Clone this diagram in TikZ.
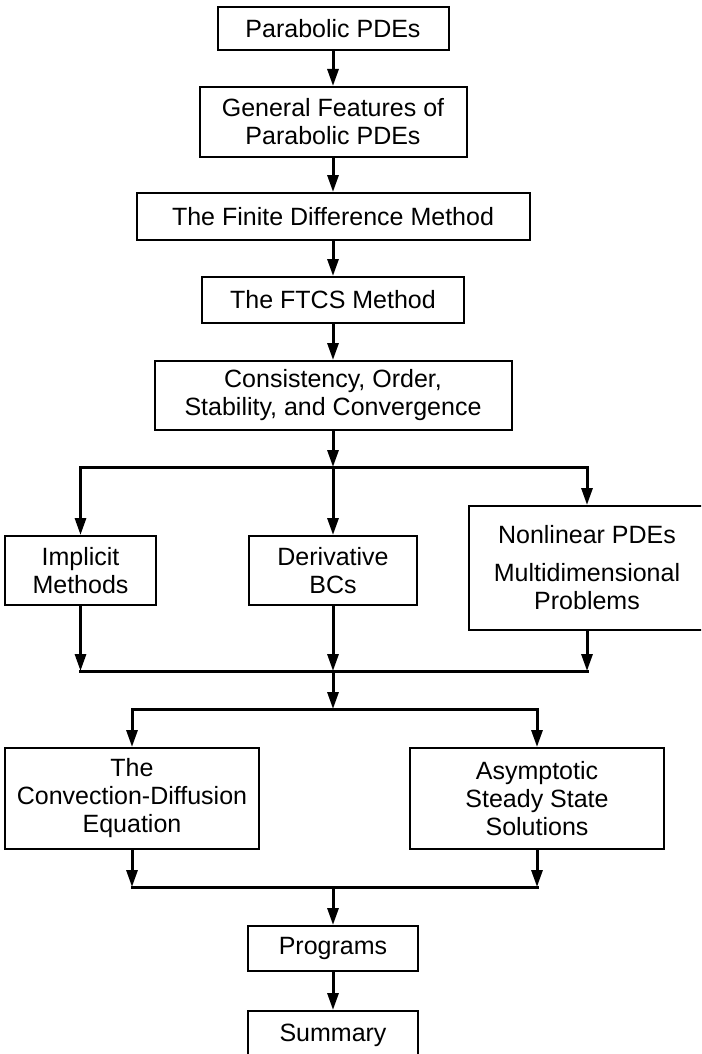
\documentclass[tikz,border=0pt]{standalone}
\usepackage{fontspec}
\setmainfont{Liberation Sans}
\usetikzlibrary{arrows.meta}
\begin{document}
\begin{tikzpicture}[x=1pt,y=-1pt,
  box/.style={draw, line width=2pt, inner sep=0pt, align=center,
    font=\fontsize{25}{28}\selectfont},
  conn/.style={line width=3pt},
  arr/.style={conn, -{Triangle[length=17pt,width=11pt]}},
]
\useasboundingbox (0,0) rectangle (701,1054);
\clip (0,0) rectangle (701,1054);

\node[box, minimum width=231, minimum height=43] (b1) at (333,28.5) {Parabolic PDEs};
\node[box, minimum width=267, minimum height=70] (b2) at (333,122) {General Features of\\Parabolic PDEs};
\node[box, minimum width=393, minimum height=47] (b3) at (333,216.5) {The Finite Difference Method};
\node[box, minimum width=262, minimum height=46] (b4) at (333,300) {The FTCS Method};
\node[box, minimum width=357, minimum height=69] (b5) at (333,395.5) {Consistency, Order,\\Stability, and Convergence};

\node[box, minimum width=151, minimum height=69] (impl) at (80.5,570.5) {Implicit\\Methods};
\node[box, minimum width=168, minimum height=69] (deriv) at (333,570.5) {Derivative\\BCs};
\node[box, minimum width=236, minimum height=124] (nonlin) at (587,568) {Nonlinear PDEs\\[10pt]Multidimensional\\Problems};

\node[box, minimum width=254, minimum height=101] (conv) at (132,798.5) {The\\Convection-Diffusion\\Equation};
\node[box, minimum width=254, minimum height=101] (asym) at (537,798.5) {Asymptotic\\Steady State\\Solutions};

\node[box, minimum width=170, minimum height=45] (prog) at (333,948.5) {Programs};
\node[box, minimum width=170, minimum height=49] (summ) at (333,1035.5) {Summary};

\coordinate (s1) at (333,467);
\coordinate (m1) at (333,671);
\coordinate (s2) at (333,709);
\coordinate (m2) at (333,887);

\draw[arr] (b1.south) -- (b2.north);
\draw[arr] (b2.south) -- (b3.north);
\draw[arr] (b3.south) -- (b4.north);
\draw[arr] (b4.south) -- (b5.north);
\draw[arr] (b5.south) -- (s1);

\draw[arr] (s1) -| (impl.north);
\draw[arr] (s1) -| (nonlin.north);
\draw[arr] (s1) -- (deriv.north);

\draw[conn, line cap=rect] (impl.south |- m1) -- (nonlin.south |- m1);
\draw[arr] (impl.south) -- (impl.south |- m1);
\draw[arr] (deriv.south) -- (m1);
\draw[arr] (nonlin.south) -- (nonlin.south |- m1);

\draw[arr] (m1) -- (s2);
\draw[arr] (s2) -| (conv.north);
\draw[arr] (s2) -| (asym.north);

\draw[conn, line cap=rect] (conv.south |- m2) -- (asym.south |- m2);
\draw[arr] (conv.south) -- (conv.south |- m2);
\draw[arr] (asym.south) -- (asym.south |- m2);

\draw[arr] (m2) -- (prog.north);
\draw[arr] (prog.south) -- (summ.north);
\end{tikzpicture}
\end{document}
